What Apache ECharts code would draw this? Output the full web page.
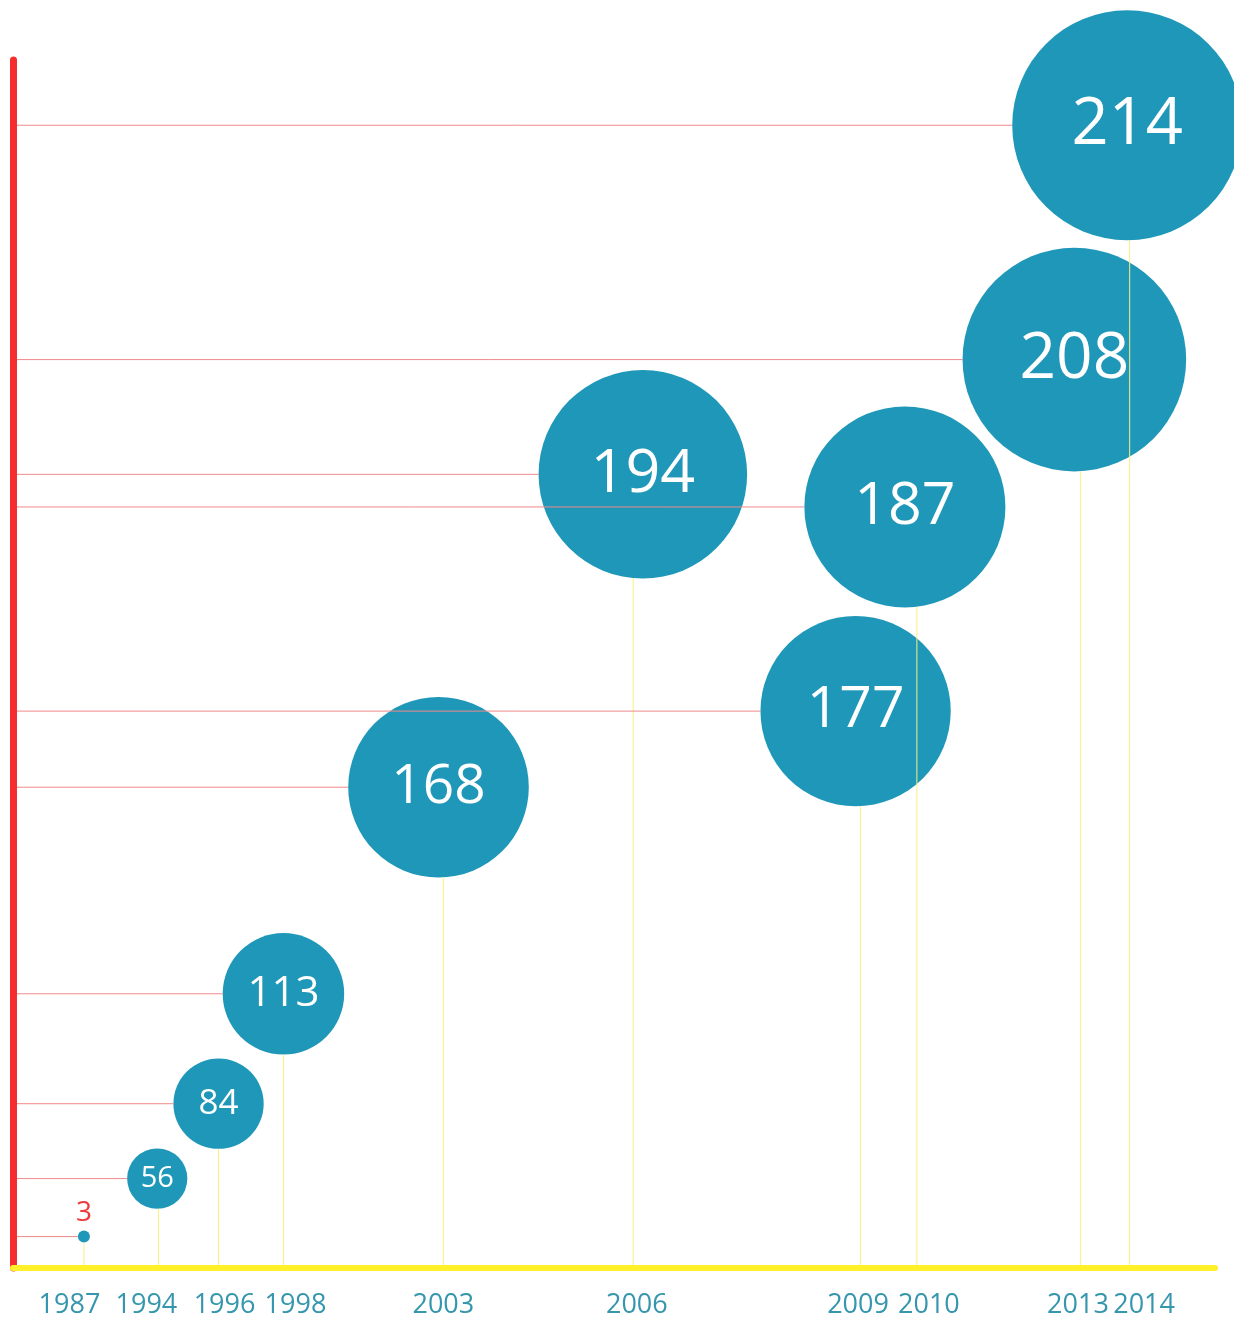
<!DOCTYPE html>
<html>
<head>
<meta charset="utf-8">
<script src="https://cdn.jsdelivr.net/npm/echarts@6/dist/echarts.min.js"></script>
<style>
html,body{margin:0;padding:0;background:#fff;}
#chart{width:1234px;height:1320px;}
</style>
</head>
<body>
<div id="chart"></div>
<script>
// Data
const years   = ['1987','1994','1996','1998','2003','2006','2009','2010','2013','2014'];
const values  = [3, 56, 84, 113, 168, 194, 177, 187, 208, 214];
// Hand-placed layout of the original infographic (abstract 0-100 units)
const lineX   = [5.9, 12.1, 17.1, 22.5, 35.8, 51.6, 70.5, 75.2, 88.8, 92.9];
const labelX  = [4.7, 11.1, 17.6, 23.5, 35.8, 51.9, 70.3, 76.2, 88.6, 94.1];
const bubbleX = [5.9, 12.0, 17.1, 22.5, 35.4, 52.4, 70.1, 74.2, 88.3, 92.7];
const levelY  = [2.6, 7.4, 13.6, 22.7, 39.8, 65.7, 46.1, 63.0, 75.2, 94.6];

const BUBBLE = '#1f97b8';
const FONT = '"Open Sans", "Noto Sans", sans-serif';
const sizeOf = v => Math.max(12, v * 1.075);
const fontOf = v => Math.round(16 + v * 0.23);

const bubbleData = values.map((v, i) => {
  const item = { value: [bubbleX[i], levelY[i], v], symbolSize: sizeOf(v) };
  if (v < 20) {
    item.label = { position: 'top', distance: 4, color: '#ee3b3b', fontSize: 28 };
  } else {
    item.label = { position: 'inside', color: '#ffffff', fontSize: fontOf(v) };
  }
  return item;
});

const guideData = values.map((v, i) => [bubbleX[i], levelY[i], v, lineX[i], labelX[i], i]);

const chart = echarts.init(document.getElementById('chart'), null, { renderer: 'canvas' });
chart.setOption({
  backgroundColor: '#ffffff',
  animation: false,
  grid: { left: 13, right: 19, top: 60, bottom: 52 },
  xAxis: {
    type: 'value', min: 0, max: 100,
    axisLine: { show: true, onZero: false, lineStyle: { color: '#fff02a', width: 6 } },
    axisTick: { show: false }, axisLabel: { show: false }, splitLine: { show: false }
  },
  yAxis: {
    type: 'value', min: 0, max: 100,
    axisLine: { show: true, onZero: false, lineStyle: { color: '#f52d2d', width: 7 } },
    axisTick: { show: false }, axisLabel: { show: false }, splitLine: { show: false }
  },
  series: [
    {
      type: 'scatter',
      z: 2,
      symbol: 'circle',
      itemStyle: { color: BUBBLE, opacity: 1 },
      label: {
        show: true,
        fontFamily: FONT,
        formatter: p => String(p.value[2])
      },
      data: bubbleData
    },
    {
      type: 'custom',
      z: 3,
      silent: true,
      data: guideData,
      encode: { x: 0, y: 1 },
      renderItem: function (params, api) {
        const bx = api.value(0), by = api.value(1), v = api.value(2);
        const lx = api.value(3), tx = api.value(4), idx = api.value(5);
        const c = api.coord([bx, by]);
        const r = sizeOf(v) / 2;
        const axisLeft = api.coord([0, by])[0] + 4;
        const base = api.coord([0, 0])[1];
        const lxp = api.coord([lx, 0])[0];
        const txp = api.coord([tx, 0])[0];
        const dx = Math.min(Math.abs(lxp - c[0]), r);
        const yTop = c[1] + Math.sqrt(r * r - dx * dx);
        return {
          type: 'group',
          children: [
            {
              type: 'line',
              shape: { x1: axisLeft, y1: c[1], x2: c[0] - r, y2: c[1] },
              style: { stroke: '#f08a8a', lineWidth: 1 }
            },
            {
              type: 'line',
              shape: { x1: lxp, y1: yTop, x2: lxp, y2: base - 3 },
              style: { stroke: '#fbef80', lineWidth: 1 }
            },
            {
              type: 'text',
              z2: 10,
              style: {
                x: txp, y: base + 37,
                text: years[idx],
                fill: '#3596ad',
                font: '27px ' + FONT,
                align: 'center', verticalAlign: 'middle'
              }
            }
          ]
        };
      }
    }
  ]
});
</script>
</body>
</html>
